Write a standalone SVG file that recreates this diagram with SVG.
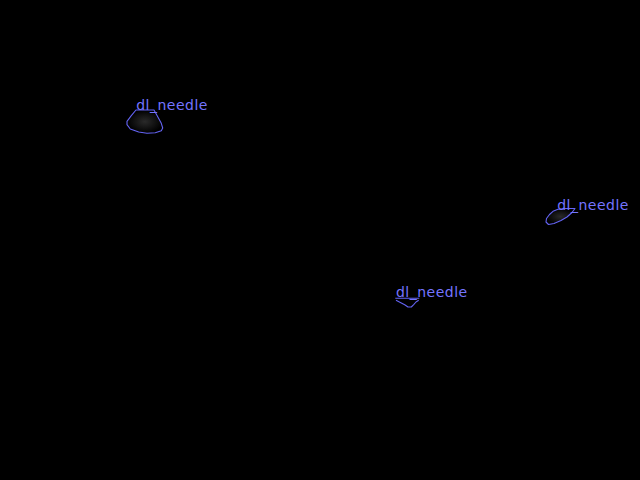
<svg xmlns="http://www.w3.org/2000/svg" width="640" height="480" viewBox="0 0 640 480">
<style>
.lbl{font-family:"DejaVu Sans","Liberation Sans",sans-serif;font-size:14px;letter-spacing:0.5px;fill:#7474ff}
.ol{stroke:#6464f4;stroke-width:1.1;stroke-linejoin:round}
</style>
<defs>
<radialGradient id="g1" cx="0.5" cy="0.5" r="0.5">
<stop offset="0" stop-color="#2a2a2a"/>
<stop offset="1" stop-color="#000"/>
</radialGradient>
</defs>
<rect width="640" height="480" fill="#000"/>
<g id="needle1">
<path class="ol" fill="url(#g1)" d="M136,110 L154,110 L158,117.3 L161.3,123.3 L162.7,128 L161.3,130.7 L155.3,132.7 L147,133.3 L138.7,132 L130.3,129 L127,124.7 L127,121.3 L131.3,115.7 Z"/>
<text class="lbl" x="136.2" y="110">dl_needle</text>
</g>
<g id="needle2">
<path class="ol" fill="url(#g1)" d="M558,209.3 L566,208.5 L575,208.5 L572,212.5 L567,217 L561,220.5 L554,223.5 L548.5,224.5 L546,222 L546.5,218.5 L549.5,214.5 L553,211.3 Z"/>
<text class="lbl" x="557.2" y="210">dl_needle</text>
</g>
<g id="needle3">
<path class="ol" fill="none" d="M395.3,298.3 L419.3,298.3 M396,300.3 L401.3,303 L404.7,304.7 L408,307 L411.3,307 L413.7,304.7 L416,302 L418.7,300.3"/>
<text class="lbl" x="395.9" y="297">dl_needle</text>
</g>
<g id="connectors"/>
</svg>
